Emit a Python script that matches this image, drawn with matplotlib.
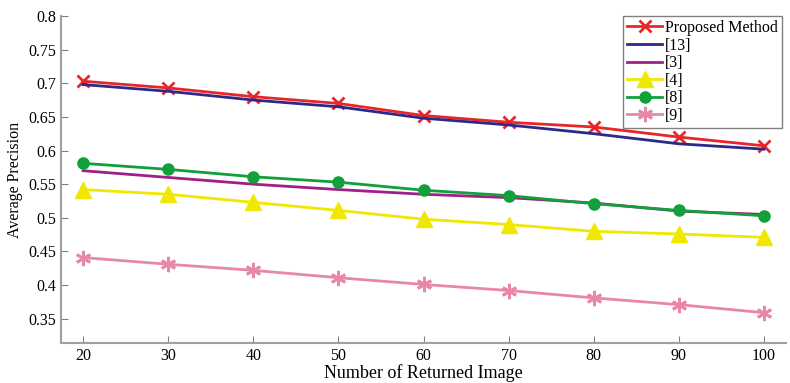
import numpy as np
import matplotlib
matplotlib.use('Agg')
from matplotlib import pyplot as plt

# number of returned images
x_vals = [20, 30, 40, 50, 60, 70, 80, 90, 100]

proposed = [0.703, 0.693, 0.680, 0.670, 0.652, 0.642, 0.635, 0.620, 0.607]
ref13 = [0.698, 0.688, 0.675, 0.665, 0.648, 0.638, 0.625, 0.610, 0.602]
ref3 = [0.570, 0.560, 0.550, 0.542, 0.535, 0.530, 0.522, 0.510, 0.505]
ref4 = [0.542, 0.535, 0.523, 0.511, 0.498, 0.490, 0.480, 0.476, 0.471]
ref8 = [0.581, 0.572, 0.561, 0.553, 0.541, 0.533, 0.521, 0.511, 0.503]
ref9 = [0.441, 0.431, 0.422, 0.411, 0.401, 0.392, 0.381, 0.371, 0.359]

labels = ['Proposed Method', '[13]', '[3]', '[4]', '[8]', '[9]']
y_ticks = [0.35, 0.4, 0.45, 0.5, 0.55, 0.6, 0.65, 0.7, 0.75, 0.8]

plt.rcParams['font.family'] = ['Liberation Serif', 'DejaVu Serif']

fig = plt.figure(figsize=(7.9, 3.83), dpi=100)
ax = fig.add_axes([0.0772, 0.1044, 0.918, 0.854])

ax.plot(x_vals, proposed, color='#e8262a', lw=2, marker='x', ms=9, mew=2, label=labels[0])
ax.plot(x_vals, ref13, color='#2b2a8a', lw=2, label=labels[1])
ax.plot(x_vals, ref3, color='#a0208a', lw=2, label=labels[2])
ax.plot(x_vals, ref4, color='#f0e800', lw=2, marker='^', ms=12, label=labels[3])
ax.plot(x_vals, ref8, color='#11a03a', lw=2, marker='o', ms=8, label=labels[4])
ax.plot(x_vals, ref9, color='#e888a8', lw=2, marker=(6, 2, 0), ms=11, mew=2, label=labels[5])

ax.set_xlim(17.4, 102.6)
ax.set_ylim(0.314, 0.8)
ax.set_xticks(x_vals)
ax.set_yticks(y_ticks)
ax.set_yticklabels([('%g' % v) for v in y_ticks])

for s in ['top', 'right']:
	ax.spines[s].set_visible(False)
for s in ['left', 'bottom']:
	ax.spines[s].set_color('#a0a0a0')
	ax.spines[s].set_linewidth(1.5)
ax.tick_params(direction='in', length=5, color='#808080', labelsize=11.5)

ax.set_xlabel('Number of Returned Image', fontsize=13, labelpad=0)
ax.set_ylabel('Average Precision', fontsize=11.5, labelpad=4)

leg = ax.legend(loc='upper left', bbox_to_anchor=(623/790, 1-16/383), bbox_transform=fig.transFigure,
	fontsize=11.5, handlelength=2.2, handletextpad=0.2, borderaxespad=0, borderpad=0.25,
	labelspacing=0.1, fancybox=False, framealpha=1)
leg.get_frame().set_edgecolor('#808080')

fig.savefig('out.png', dpi=100)
